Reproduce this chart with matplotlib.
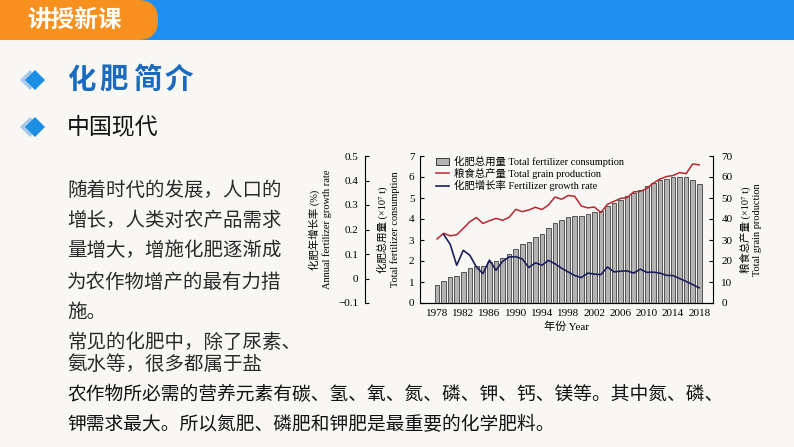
import matplotlib.pyplot as plt
import matplotlib.patches as mpatches
from matplotlib.lines import Line2D
from matplotlib.patches import FancyBboxPatch, Polygon, Rectangle

plt.rcParams['font.family'] = ['Noto Sans CJK SC', 'DejaVu Sans']
plt.rcParams['axes.unicode_minus'] = False

# ---- data ----
years = list(range(1978, 2019))
fert_total = [0.85, 1.05, 1.25, 1.30, 1.50, 1.65, 1.75, 1.76, 1.94, 1.99,
              2.13, 2.35, 2.58, 2.80, 2.91, 3.15, 3.30, 3.58, 3.82, 3.97,
              4.08, 4.12, 4.14, 4.24, 4.34, 4.40, 4.63, 4.76, 4.92, 5.10,
              5.24, 5.40, 5.56, 5.70, 5.84, 5.91, 6.00, 6.02, 5.98, 5.86, 5.65]
grain_total = [30.5, 33.2, 32.0, 32.5, 35.5, 38.7, 40.7, 37.9, 39.2, 40.3,
               39.4, 40.8, 44.6, 43.5, 44.3, 45.6, 44.5, 46.7, 50.5, 49.4,
               51.2, 50.8, 46.2, 45.3, 45.7, 43.1, 47.0, 48.4, 49.8, 50.2,
               52.9, 53.1, 54.6, 57.1, 59.0, 60.2, 60.7, 62.1, 61.6, 66.2, 65.8]
rate_years = list(range(1979, 2019))
fert_rate = [0.180, 0.140, 0.054, 0.115, 0.095, 0.047, 0.020, 0.075, 0.034, 0.070,
             0.088, 0.089, 0.080, 0.045, 0.064, 0.054, 0.074, 0.060, 0.042, 0.027,
             0.012, 0.004, 0.022, 0.018, 0.016, 0.047, 0.027, 0.030, 0.031, 0.022,
             0.038, 0.025, 0.026, 0.022, 0.013, 0.012, 0.000, -0.012, -0.025, -0.038]
xticks = list(range(1978, 2019, 4))

W, H = 794, 447
fig = plt.figure(figsize=(W / 100, H / 100), dpi=100)
fig.patch.set_facecolor('#f8f7f4')

# ---- slide decoration ----
bg = fig.add_axes([0, 0, 1, 1])
bg.set_xlim(0, W)
bg.set_ylim(H, 0)
bg.axis('off')
bg.add_patch(Rectangle((0, 0), W, 40, color='#1e8fef', lw=0))
bg.add_patch(FancyBboxPatch((-40, 0), 198, 40, boxstyle='round,pad=0,rounding_size=20',
                            facecolor='#f7901e', edgecolor='none'))
bg.text(27, 20, '讲授新课', ha='left', va='center', fontsize=17,
        fontweight='bold', color='white')

def diamond(cx, cy):
    r = 10
    bg.add_patch(Polygon([(cx - 5, cy - r), (cx - 5 + r, cy), (cx - 5, cy + r), (cx - 5 - r, cy)],
                         closed=True, facecolor='#a9c9ec', edgecolor='none'))
    bg.add_patch(Polygon([(cx, cy - r), (cx + r, cy), (cx, cy + r), (cx - r, cy)],
                         closed=True, facecolor='#1a8fe3', edgecolor='none'))

diamond(35, 80)
diamond(35, 127)
for ch, cx in zip('化肥简介', [81, 114, 147, 179]):
    bg.text(cx, 80, ch, ha='center', va='center', fontsize=20.5,
            fontweight='bold', color='#1a6bbf')
bg.text(67, 127, '中国现代', ha='left', va='center', fontsize=16.5, color='#111111')

para = ['随着时代的发展，人口的', '增长，人类对农产品需求', '量增大，增施化肥逐渐成',
        '为农作物增产的最有力措', '施。', '常见的化肥中，除了尿素、', '氨水等，很多都属于盐']
para_y = [190, 220, 250, 282, 312, 342, 364]
for line, y in zip(para, para_y):
    bg.text(67, y, line, ha='left', va='center', fontsize=14, color='#2a2a2a')

bg.text(67, 395, '农作物所必需的营养元素有碳、氢、氧、氮、磷、钾、钙、镁等。其中氮、磷、',
        ha='left', va='center', fontsize=13.5, fontweight='medium', color='#111111')
bg.text(67, 425, '钾需求最大。所以氮肥、磷肥和钾肥是最重要的化学肥料。',
        ha='left', va='center', fontsize=13.5, fontweight='medium', color='#111111')

# ---- chart ----
serif = ['Liberation Serif', 'Noto Sans CJK SC']
x0, x1, y0, y1 = 420, 713, 156, 303
ax = fig.add_axes([x0 / W, 1 - y1 / H, (x1 - x0) / W, (y1 - y0) / H])
ax.patch.set_alpha(0)
ax.bar(years, fert_total, width=0.7, color='#b3b3b3', edgecolor='#222222', linewidth=0.5,
       zorder=2)
ax.set_xlim(1975.4, 2020.1)
ax.set_ylim(0, 7)
ax.set_yticks(range(0, 8))
ax.set_xticks(xticks)
ax.spines['top'].set_visible(False)
ax.spines['right'].set_visible(False)
ax.tick_params(direction='in', length=3, width=0.8, labelsize=8)
ax.tick_params(axis='y', pad=4)
ax.tick_params(axis='x', pad=4)
for lab in ax.get_xticklabels() + ax.get_yticklabels():
    lab.set_family(serif)
ax.set_ylabel('化肥总用量 (×10⁷ t)\nTotal fertilizer consumption', family=serif,
              fontsize=7.5, labelpad=6, linespacing=1.3)
ax.set_xlabel('年份 Year', family=serif, fontsize=8, labelpad=3)

ax2 = ax.twinx()
ax2.plot(years, grain_total, color='#b8262f', lw=1.1, zorder=3)
ax2.set_ylim(0, 70)
ax2.set_yticks(range(0, 71, 10))
ax2.spines['top'].set_visible(False)
ax2.spines['left'].set_visible(False)
ax2.tick_params(direction='in', length=3, width=0.8, labelsize=8, pad=6)
for lab in ax2.get_yticklabels():
    lab.set_family(serif)
ax2.set_ylabel('粮食总产量 (×10⁷ t)\nTotal grain production', family=serif,
               fontsize=7.5, labelpad=5, linespacing=1.3)

ax3 = ax.twinx()
ax3.plot(rate_years, fert_rate, color='#1c1f5e', lw=1.2, zorder=3)
ax3.set_ylim(-0.1, 0.5)
ax3.set_yticks([-0.1, 0, 0.1, 0.2, 0.3, 0.4, 0.5])
ax3.set_yticklabels(['−0.1', '0', '0.1', '0.2', '0.3', '0.4', '0.5'])
ax3.spines['left'].set_position(('outward', 39.6))
ax3.spines['left'].set_visible(True)
for s in ['top', 'right', 'bottom']:
    ax3.spines[s].set_visible(False)
ax3.yaxis.set_ticks_position('left')
ax3.yaxis.set_label_position('left')
ax3.tick_params(direction='in', length=3, width=0.8, labelsize=8, pad=5)
for lab in ax3.get_yticklabels():
    lab.set_family(serif)
ax3.set_ylabel('化肥年增长率 (%)\nAnnual fertilizer growth rate', family=serif,
               fontsize=7.5, labelpad=4, linespacing=1.3)

handles = [mpatches.Patch(facecolor='#b3b3b3', edgecolor='#222222', linewidth=0.6),
           Line2D([], [], color='#b8262f', lw=1.1),
           Line2D([], [], color='#1c1f5e', lw=1.2)]
labels = ['化肥总用量 Total fertilizer consumption', '粮食总产量 Total grain production',
          '化肥增长率 Fertilizer growth rate']
ax3.legend(handles, labels, loc='upper left', bbox_to_anchor=(0.04, 1.03), frameon=False,
           prop={'family': serif, 'size': 7.5}, handlelength=1.3, handleheight=0.7,
           handletextpad=0.4, labelspacing=0.1, borderaxespad=0)

fig.savefig('out.png', dpi=100, facecolor=fig.get_facecolor())
